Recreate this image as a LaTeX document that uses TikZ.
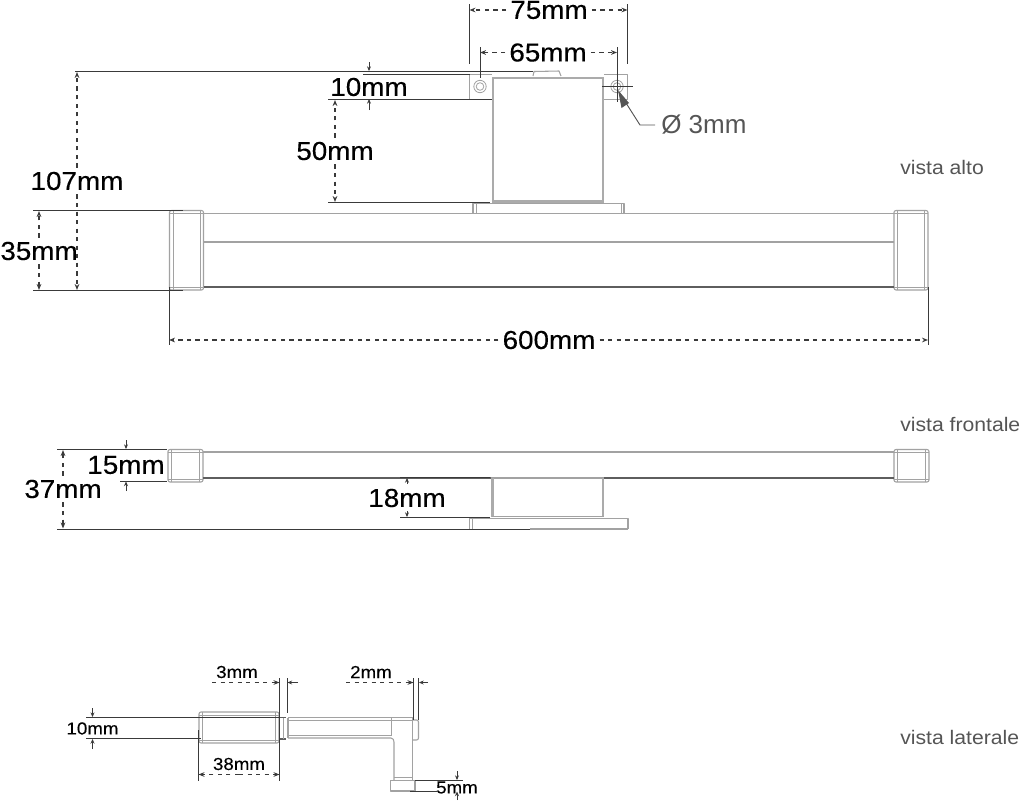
\documentclass[tikz,border=0pt]{standalone}
\usepackage{fontspec}
\setmainfont{Liberation Sans}
\newfontfamily\dimfont[FakeStretch=1.07,FakeBold=0.25]{Liberation Sans}
\newfontfamily\minifont[FakeStretch=1.08,FakeBold=0.15]{Liberation Sans}
\newfontfamily\viewfont[FakeStretch=1.08]{Liberation Sans}
\usetikzlibrary{arrows.meta}
\definecolor{part}{HTML}{A2A2A2}
\definecolor{band}{HTML}{ABABAB}
\definecolor{ink}{HTML}{3A3A3A}
\definecolor{mid}{HTML}{5E5E5E}
\definecolor{soft}{HTML}{555555}
\tikzset{
 x=0.75pt,y=-0.75pt,
 partline/.style={draw=part,line width=0.8pt,line join=round},
 thinpart/.style={draw=part,line width=0.6pt},
 bandline/.style={draw=band,line width=1.8pt},
 extline/.style={draw=ink,line width=0.75pt},
 dimline/.style={draw=ink,line width=0.85pt,dash pattern=on 3.2pt off 3.2pt,-{Stealth[length=4.5pt,width=3.5pt]}},
 tick/.style={draw=ink,line width=0.6pt,-{Stealth[length=3.5pt,width=3pt]}},
 biglabel/.style={font=\dimfont\fontsize{19.5}{20}\selectfont,text=black,inner sep=3pt,fill=white},
 minilabel/.style={font=\minifont\fontsize{13}{14}\selectfont,text=black,inner sep=0pt},
 viewlabel/.style={font=\viewfont\fontsize{14.7}{16}\selectfont,text=soft,anchor=west,inner sep=0pt},
}
\newcommand{\capbox}[4]{% x1 y1 x2 y2
 \draw[partline,rounded corners=1.5pt] (#1,#2) rectangle (#3,#4);
 \draw[thinpart] (#1+3.5,#2) -- (#1+3.5,#4) (#3-3.5,#2) -- (#3-3.5,#4) (#1,#2+3) -- (#3,#2+3) (#1,#4-3) -- (#3,#4-3);
}
\begin{document}
\begin{tikzpicture}
\useasboundingbox (0,0) rectangle (1020,800);
% ---------- top view ----------
\capbox{169.5}{210.5}{203.5}{290}
\capbox{894}{210.5}{928}{290}
\draw[partline] (203.5,213.5) -- (894,213.5);
\draw[partline] (203.5,242) -- (894,242);
\draw[draw=mid,line width=0.85pt] (203.5,287) -- (894,287);
\draw[partline] (473,213) -- (473,203.5) -- (624,203.5) -- (624,213);
\draw[thinpart] (476,203.5) -- (476,213) (621,203.5) -- (621,213);
\draw[bandline] (493,77.5) -- (493,202) (603,77.5) -- (603,202) (492,78) -- (604,78) (492,201.5) -- (604,201.5);
\draw[partline] (492,74.5) -- (469.5,74.5) -- (469.5,99.5) -- (492,99.5);
\draw[partline] (604,74.5) -- (627.5,74.5) -- (627.5,99.5) -- (604,99.5);
\draw[partline] (533,76) -- (534,71.5) -- (559,71) -- (561,76);
\draw[thinpart] (480,86.5) circle (6.2) (480,86.5) circle (3.8);
\draw[thinpart] (617,86.5) circle (6.2) (617,86.5) circle (3.8);
\draw[extline,line width=0.5pt] (602,86.5) -- (633,86.5);
% witness lines
\coordinate (a75L) at (469.5,10); \coordinate (a75R) at (627.5,10);
\coordinate (a65L) at (480,52.5); \coordinate (a65R) at (617,52.5);
\draw[extline] (469.5,4) -- (469.5,64) (627.5,4) -- (627.5,64);
\draw[extline] (480,47) -- (480,78) (617,47) -- (617,102);
\draw[extline] (75,71.5) -- (533,71.5);
\draw[extline] (363,74) -- (469.5,74);
\draw[extline] (328,99.5) -- (492,99.5);
\draw[extline] (328,202) -- (490,202);
\draw[extline] (33,210.5) -- (183,210.5);
\draw[extline] (33,290.5) -- (183,290.5);
\draw[extline] (169,287) -- (169,345) (928,287) -- (928,345);
\node[biglabel] (l75) at (549,10) {75mm};
\node[biglabel] (l65) at (548,52.5) {65mm};
\node[biglabel,fill=none] (l10) at (369,87) {10mm};
\node[biglabel] (l50) at (335,151) {50mm};
\node[biglabel] (l107) at (77,181) {107mm};
\node[biglabel,fill=none] (l35) at (39,251) {35mm};
\node[biglabel] (l600) at (549,340) {600mm};
\draw[dimline] (l75) -- (a75L);
\draw[dimline] (l75) -- (a75R);
\draw[dimline] (l65) -- (a65L);
\draw[dimline] (l65) -- (a65R);
\coordinate (a10T) at (369,71); \coordinate (a10Ta) at (369,62);
\coordinate (a10B) at (369,99); \coordinate (a10Ba) at (369,110);
\draw[tick] (a10Ta) -- (a10T);
\draw[tick] (a10Ba) -- (a10B);
\coordinate (a50T) at (335,100); \coordinate (a50B) at (335,202);
\draw[dimline] (l50) -- (a50T);
\draw[dimline] (l50) -- (a50B);
\coordinate (a107T) at (77,72); \coordinate (a107B) at (77,290);
\draw[dimline] (l107) -- (a107T);
\draw[dimline] (l107) -- (a107B);
\coordinate (a35T) at (39,211); \coordinate (a35B) at (39,290);
\draw[dimline] (l35) -- (a35T);
\draw[dimline] (l35) -- (a35B);
\coordinate (a600L) at (169,340); \coordinate (a600R) at (928,340);
\draw[dimline] (l600) -- (a600L);
\draw[dimline] (l600) -- (a600R);
% hole leader
\node[anchor=west,inner sep=0pt,font=\fontsize{19.5}{20}\selectfont,text=soft] (hole) at (661,124.5) {Ø 3mm};
\coordinate (holeTip) at (618,90);
\coordinate (holeKnee) at (640,125);
\draw[draw=soft,line width=0.7pt] (655,125) -- (holeKnee) -- (626,103);
\fill[soft] (holeTip) -- (629,103) -- (621.5,108) -- cycle;
\node[viewlabel] (vAlto) at (900,167) {vista alto};
% ---------- front view ----------
\capbox{168}{449.5}{203}{482}
\capbox{894}{449.5}{929}{482}
\draw[partline] (203,452) -- (894,452);
\draw[draw=mid,line width=0.85pt] (203,478) -- (491,478);
\draw[draw=mid,line width=0.85pt] (604,478) -- (894,478);
\draw[partline] (491,478) -- (604,478);
\draw[bandline] (492.5,478) -- (492.5,517) (603,478) -- (603,517);
\draw[partline] (492,516.5) -- (604,516.5);
\draw[partline] (469.5,529) -- (469.5,518.5) -- (628,518.5) -- (628,529);
\draw[thinpart] (472,518.5) -- (472,529);
\draw[extline] (57,449.5) -- (167,449.5);
\draw[extline] (120,481) -- (167,481);
\draw[extline] (57,529) -- (530,529);
\draw[partline] (530,529) -- (628,529);
\draw[extline] (400,477.5) -- (490,477.5);
\draw[extline] (400,517) -- (490,517);
\node[biglabel,fill=none] (l15) at (126,465) {15mm};
\node[biglabel] (l37) at (63,489) {37mm};
\node[biglabel,fill=none] (l18) at (407,498) {18mm};
\draw[tick] (126,440) -- (126,449);
\draw[tick] (126,491) -- (126,481.5);
\coordinate (a37T) at (63,450); \coordinate (a37B) at (63,528.5);
\draw[dimline] (l37) -- (a37T);
\draw[dimline] (l37) -- (a37B);
\draw[tick] (407,484) -- (407,478);
\draw[tick] (407,511) -- (407,517);
\node[viewlabel] (vFront) at (900,424) {vista frontale};
% ---------- side view ----------
\capbox{199}{712}{279}{743}
\draw[draw=mid,line width=0.8pt] (279,717.5) -- (286,717.5) (279,739) -- (286,739);
\draw[thinpart] (283,717.5) -- (283,739);
\draw[partline] (288,717.5) -- (412.5,717.5);
\draw[thinpart] (288,720) -- (412,720);
\draw[partline] (288,717.5) -- (288,738);
\draw[partline] (288,738) -- (391,738) .. controls (393,738) and (394,740) .. (394,742) -- (394,780);
\draw[thinpart] (288,735.5) -- (391,735.5);
\draw[thinpart] (391.5,718) -- (391.5,736);
\draw[partline] (412.5,717.5) -- (412.5,780.5);
\draw[partline,rounded corners=1.5pt] (413,720) -- (418.5,720) -- (418.5,740) -- (413,740);
\draw[thinpart] (394,777) -- (412,777);
\draw[partline] (390.5,780.5) rectangle (415,791);
\draw[extline] (86,717.5) -- (279,717.5);
\draw[extline] (86,738.5) -- (201,738.5);
\draw[extline] (415,780.5) -- (463,780.5);
\draw[extline] (410,791) -- (437,791);
\draw[extline] (198.5,730) -- (198.5,781);
\draw[extline] (279.5,678) -- (279.5,781);
\draw[extline] (287,678) -- (287,713);
\draw[extline] (413.5,678) -- (413.5,720);
\draw[extline] (418.5,678) -- (418.5,720);
\node[minilabel] (l10s) at (92.5,728.5) {10mm};
\node[minilabel] (l38) at (239,764) {38mm};
\node[minilabel] (l3) at (237,672) {3mm};
\node[minilabel] (l2) at (371,672) {2mm};
\node[minilabel] (l5) at (457,787.5) {5mm};
\draw[tick] (92.5,708) -- (92.5,717);
\draw[tick] (92.5,749) -- (92.5,739);
\coordinate (a38L) at (198.5,774.5); \coordinate (a38R) at (279.5,774.5); \coordinate (a38M) at (239,774.5);
\draw[dimline] (a38M) -- (a38L);
\draw[dimline] (a38M) -- (a38R);
\coordinate (d3) at (212,682.5);
\draw[dimline] (d3) -- (279.5,682.5);
\draw[tick] (298,682.5) -- (287.5,682.5);
\coordinate (d2) at (346,682.5);
\draw[dimline] (d2) -- (413.5,682.5);
\draw[tick] (428,682.5) -- (419,682.5);
\draw[tick] (457,771) -- (457,780);
\draw[tick] (457,800) -- (457,791.5);
\node[viewlabel] (vSide) at (900,737) {vista laterale};
\end{tikzpicture}
\end{document}
